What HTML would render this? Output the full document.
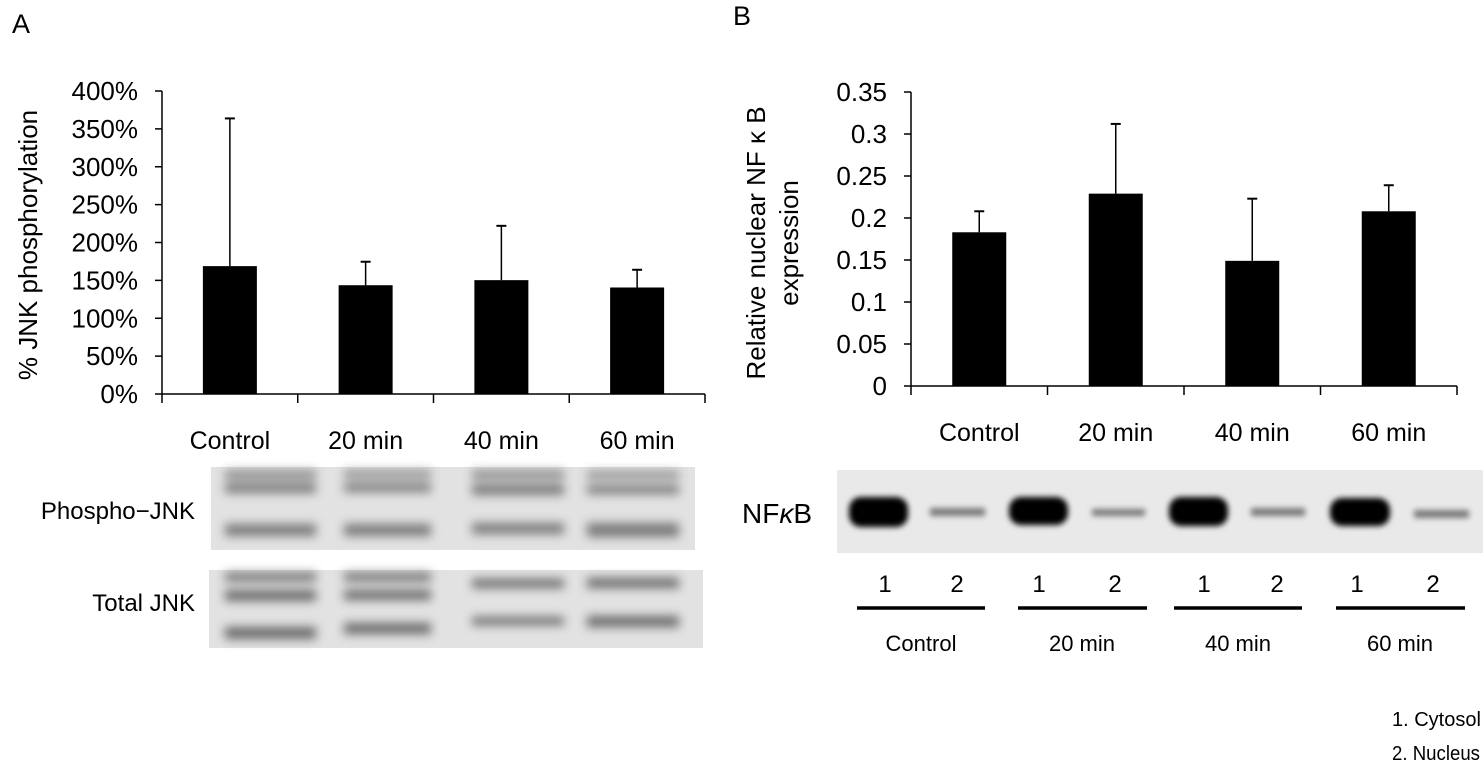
<!DOCTYPE html>
<html><head><meta charset="utf-8"><style>
html,body{margin:0;padding:0;background:#fff;}
svg{display:block;font-family:"Liberation Sans","Noto Sans CJK JP",sans-serif;}
</style></head><body>
<svg id="fig" width="1484" height="763" viewBox="0 0 1484 763">
<defs>
<filter id="blur3" x="-20%" y="-100%" width="140%" height="300%"><feGaussianBlur stdDeviation="3"/></filter>
<filter id="blur5" x="-20%" y="-100%" width="140%" height="300%"><feGaussianBlur stdDeviation="5"/></filter>
</defs>
<text x="12" y="33" font-size="27">A</text>
<text x="733" y="25" font-size="27">B</text>
<g id="chartA"></g>
<g id="chartB"></g>

<g>
<text x="195" y="519" font-size="24" text-anchor="end">Phospho−JNK</text>
<rect x="211" y="467" width="484" height="83" fill="#e2e2e2"/>
<g filter="url(#blur5)" fill="#606060" opacity="0.8">
<rect x="225" y="471" width="91" height="7"/><rect x="225" y="483" width="91" height="10"/><rect x="225" y="524" width="91" height="12"/>
<rect x="344" y="471" width="87" height="6"/><rect x="344" y="483" width="87" height="9"/><rect x="344" y="524" width="87" height="12"/>
<rect x="472" y="471" width="92" height="7"/><rect x="472" y="484" width="92" height="11"/><rect x="472" y="523" width="92" height="11"/>
<rect x="587" y="472" width="92" height="6"/><rect x="587" y="485" width="92" height="9"/><rect x="587" y="523" width="92" height="14"/>
</g>
</g>
<g>
<text x="195" y="611" font-size="24" text-anchor="end">Total JNK</text>
<rect x="209" y="570" width="494" height="78" fill="#e2e2e2"/>
<g filter="url(#blur5)" fill="#555" opacity="0.85">
<rect x="225" y="573" width="91" height="8"/><rect x="225" y="590" width="91" height="11"/><rect x="225" y="627" width="91" height="12"/>
<rect x="344" y="573" width="87" height="8"/><rect x="344" y="590" width="87" height="10"/><rect x="344" y="623" width="87" height="11"/>
<rect x="472" y="579" width="92" height="9"/><rect x="472" y="617" width="92" height="8"/>
<rect x="587" y="578" width="92" height="10"/><rect x="587" y="616" width="92" height="11"/>
</g>
</g>

<g>
<text x="742" y="523" font-size="28">NF<tspan font-style="italic">κ</tspan>B</text>
<rect x="837" y="470" width="646" height="83" fill="#e9e9e9"/>
<g filter="url(#blur3)" fill="#000">
<rect x="849" y="497" width="59" height="30" rx="12"/>
<rect x="1009" y="497" width="59" height="28" rx="12"/>
<rect x="1169" y="497" width="59" height="29" rx="12"/>
<rect x="1330" y="498" width="60" height="28" rx="12"/>
</g>
<g filter="url(#blur3)" fill="#666" opacity="0.85">
<rect x="930" y="508" width="55" height="8"/>
<rect x="1092" y="509" width="53" height="7"/>
<rect x="1251" y="508" width="54" height="8"/>
<rect x="1414" y="510" width="55" height="8"/>
</g>
</g>
<g font-size="24" text-anchor="middle">
<text x="885" y="592">1</text><text x="957" y="592">2</text>
<text x="1039" y="592">1</text><text x="1115" y="592">2</text>
<text x="1204" y="592">1</text><text x="1277" y="592">2</text>
<text x="1357" y="592">1</text><text x="1433" y="592">2</text>
</g>
<g stroke="#000" stroke-width="3.5">
<line x1="857" y1="608" x2="985" y2="608"/><line x1="1018" y1="608" x2="1147" y2="608"/>
<line x1="1174" y1="608" x2="1302" y2="608"/><line x1="1336" y1="608" x2="1465" y2="608"/>
</g>
<g font-size="22" text-anchor="middle">
<text x="921" y="651">Control</text><text x="1082" y="651">20 min</text>
<text x="1238" y="651">40 min</text><text x="1400" y="651">60 min</text>
</g>
<text x="1392" y="726" font-size="20">1. Cytosol</text>
<text x="1392" y="760" font-size="20" textLength="88" lengthAdjust="spacingAndGlyphs">2. Nucleus</text>
</svg>
<script>
const categories = ["Control", "20 min", "40 min", "60 min"];
const jnkValues = [168.8, 143.6, 150.3, 140.6];
const jnkErrTop = [363.8, 174.6, 222, 164];
const jnkTicks = [0, 50, 100, 150, 200, 250, 300, 350, 400];
const nfkbValues = [0.183, 0.229, 0.149, 0.208];
const nfkbErrTop = [0.208, 0.312, 0.223, 0.239];
const nfkbTicks = [0, 0.05, 0.1, 0.15, 0.2, 0.25, 0.3, 0.35];

const NS = "http://www.w3.org/2000/svg";
function mk(tag, attrs, parent) {
  const e = document.createElementNS(NS, tag);
  for (const k in attrs) e.setAttribute(k, attrs[k]);
  parent.appendChild(e);
  return e;
}

function drawChart(g, o) {
  const yS = v => o.y0 - (v - o.min) / (o.max - o.min) * (o.y0 - o.y1);
  const bw = (o.x1 - o.x0) / o.cats.length;
  const xC = i => o.x0 + bw * (i + 0.5);
  const axis = mk('line', {x1: o.x0, y1: o.y1, x2: o.x0, y2: o.y0, stroke: '#000', 'stroke-width': 1.5}, g);
  
  
  const xaxis = mk('line', {x1: o.x0, y1: o.y0, x2: o.x1, y2: o.y0, stroke: '#000', 'stroke-width': 1.5}, g);
  
  
  o.ticks.forEach((t) => {
    const y = yS(t);
    mk('line', {x1: o.x0 - 7, y1: y, x2: o.x0, y2: y, stroke: '#000', 'stroke-width': 1.5}, g);
    const tx = mk('text', {x: o.x0 - 24, y: y + 9, 'font-size': 26, 'text-anchor': 'end'}, g);
    tx.textContent = o.fmt(t);
    
    
  });
  for (let i = 0; i <= o.cats.length; i++) {
    const x = o.x0 + bw * i;
    mk('line', {x1: x, y1: o.y0, x2: x, y2: o.y0 + 9, stroke: '#000', 'stroke-width': 1.5}, g);
  }
  o.cats.forEach((c, i) => {
    const cx = xC(i);
    const top = yS(o.vals[i]);
    const et = yS(o.err[i]);
    mk('line', {x1: cx, y1: top, x2: cx, y2: et, stroke: '#000', 'stroke-width': 1.5}, g);
    mk('line', {x1: cx - 5, y1: et, x2: cx + 5, y2: et, stroke: '#000', 'stroke-width': 2}, g);
    const r = mk('rect', {x: cx - 27, y: top, width: 54, height: o.y0 - top, fill: '#000'}, g);
    
    
    const lt = mk('text', {x: cx, y: o.labY, 'font-size': 25, 'text-anchor': 'middle'}, g);
    lt.textContent = c;
    
    
  });
  const tl = mk('text', {transform: 'translate(' + o.titleX + ',' + o.titleY + ') rotate(-90)', 'font-size': 26, 'text-anchor': 'middle'}, g);
  
  
  o.title.forEach((line, k) => {
    const ts = mk('tspan', {x: 0, dy: k === 0 ? 0 : 33}, tl);
    ts.textContent = line;
  });
}

drawChart(document.getElementById('chartA'), {
  x0: 162, x1: 705, y0: 394, y1: 91, min: 0, max: 400,
  cats: categories, vals: jnkValues, err: jnkErrTop, ticks: jnkTicks,
  fmt: t => t + '%', labY: 449, title: ['% JNK phosphorylation'], titleX: 37, titleY: 245
});
drawChart(document.getElementById('chartB'), {
  x0: 911, x1: 1457, y0: 386, y1: 92, min: 0, max: 0.35,
  cats: categories, vals: nfkbValues, err: nfkbErrTop, ticks: nfkbTicks,
  fmt: t => String(t), labY: 441, title: ['Relative nuclear NF κ B', 'expression'], titleX: 765, titleY: 243
});
</script>
</body></html>
